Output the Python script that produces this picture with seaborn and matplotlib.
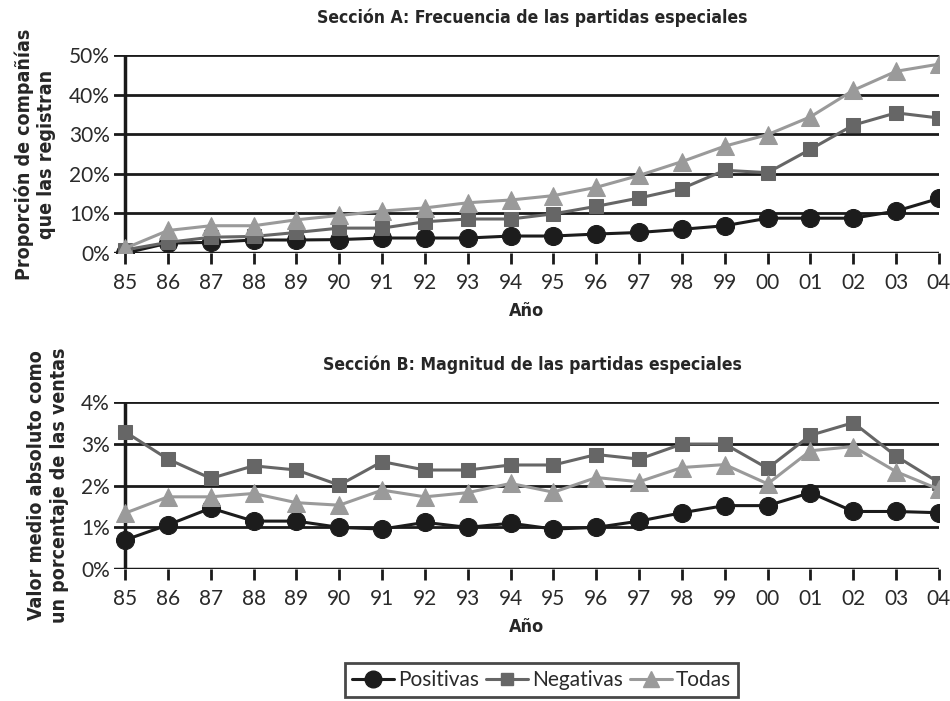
import matplotlib
matplotlib.use("Agg")
import matplotlib.pyplot as plt
import seaborn as sns
import pandas as pd
import numpy as np
from matplotlib.lines import Line2D
from matplotlib import font_manager

years = ["85", "86", "87", "88", "89", "90", "91", "92", "93", "94",
         "95", "96", "97", "98", "99", "00", "01", "02", "03", "04"]

# Section A: frequency (%)
a_pos = [0.0, 2.5, 2.7, 3.3, 3.3, 3.4, 3.8, 3.8, 3.8, 4.3,
         4.3, 4.8, 5.2, 6.0, 6.9, 8.8, 8.8, 8.8, 10.6, 13.8]
a_neg = [0.8, 2.7, 4.0, 4.2, 5.2, 6.3, 6.3, 7.9, 8.6, 8.6,
         9.9, 11.8, 13.9, 16.3, 20.9, 20.3, 26.2, 32.3, 35.4, 34.1]
a_all = [1.2, 5.7, 6.9, 6.9, 8.4, 9.5, 10.6, 11.4, 12.7, 13.4,
         14.5, 16.6, 19.6, 23.1, 27.0, 29.9, 34.4, 41.1, 45.9, 47.7]

# Section B: magnitude (% of sales)
b_pos = [0.70, 1.06, 1.46, 1.15, 1.15, 1.00, 0.96, 1.12, 1.00, 1.10,
         0.96, 1.00, 1.15, 1.35, 1.52, 1.52, 1.83, 1.38, 1.38, 1.35]
b_neg = [3.28, 2.63, 2.17, 2.47, 2.37, 2.01, 2.57, 2.37, 2.37, 2.49,
         2.49, 2.74, 2.63, 2.99, 2.99, 2.41, 3.20, 3.50, 2.70, 2.07]
b_all = [1.34, 1.73, 1.73, 1.81, 1.59, 1.53, 1.89, 1.73, 1.83, 2.05,
         1.84, 2.19, 2.09, 2.43, 2.50, 2.04, 2.83, 2.93, 2.33, 1.91]

series = ["Positivas", "Negativas", "Todas"]
yticks_a = [0, 10, 20, 30, 40, 50]
yticks_b = [0, 1, 2, 3, 4]

sns.set_theme(style="white")
plt.rcParams['font.family'] = ['Lato', 'DejaVu Sans']

colors = {"Positivas": "#1c1c1c", "Negativas": "#666666", "Todas": "#9a9a9a"}
markers = {"Positivas": "o", "Negativas": "s", "Todas": "^"}
msize = {"Positivas": 13, "Negativas": 10, "Todas": 13}

# condensed bold font for titles/labels
cond = None
for f in font_manager.fontManager.ttflist:
    if 'Condensed' in f.fname and 'Bold' in f.fname and 'Oblique' not in f.fname and 'Italic' not in f.fname:
        cond = f.fname
        if 'DejaVu' in f.fname:
            break
if cond:
    bold_fp = lambda s: font_manager.FontProperties(fname=cond, size=s)
else:
    bold_fp = lambda s: font_manager.FontProperties(family='DejaVu Sans', weight='bold', size=s)

tick_fp = font_manager.FontProperties(family=['Lato', 'DejaVu Sans'], weight='normal', size=15)

fig = plt.figure(figsize=(9.5, 7.01), dpi=100)
ax1 = fig.add_axes([0.12, 0.639, 0.8684, 0.2825])
ax2 = fig.add_axes([0.12, 0.1879, 0.8684, 0.239])

def make_df(pos, neg, al):
    rows = []
    for name, vals in zip(series, [pos, neg, al]):
        for i, v in enumerate(vals):
            rows.append({"x": i, "y": v, "serie": name})
    return pd.DataFrame(rows)

def draw(ax, df, yticks, fmt, title, ylabel):
    for name in series:
        d = df[df.serie == name]
        sns.lineplot(data=d, x="x", y="y", ax=ax, color=colors[name],
                     marker=markers[name], markersize=msize[name],
                     markeredgecolor=colors[name], linewidth=2.2,
                     sort=False, legend=False, zorder=3)
    for t in yticks[1:]:
        ax.axhline(t, color="#1a1a1a", lw=2, zorder=1)
    ax.axhline(yticks[0], color="#1a1a1a", lw=2.5, zorder=1)
    ax.axvline(0, color="#1a1a1a", lw=2.5, zorder=1)
    ax.set_ylim(yticks[0], yticks[-1])
    ax.set_xlim(-0.26, len(years) - 1)
    ax.set_yticks(yticks)
    ax.set_yticklabels([fmt(t) for t in yticks], fontproperties=tick_fp, color="#2a2a2a")
    ax.set_xticks(range(len(years)))
    ax.set_xticklabels(years, fontproperties=tick_fp, color="#2a2a2a")
    ax.tick_params(axis='x', direction='out', length=8, width=2, color="#1a1a1a", pad=6, bottom=True)
    ax.tick_params(axis='y', length=0, pad=3)
    for s in ax.spines.values():
        s.set_visible(False)
    ax.set_xlabel("Año", fontproperties=bold_fp(13), labelpad=7)
    ax.set_ylabel(ylabel, fontproperties=bold_fp(14), labelpad=9, linespacing=1.25)
    ax.set_title(title, fontproperties=bold_fp(12.6), pad=23, x=0.507)
    ax.patch.set_alpha(0)

draw(ax1, make_df(a_pos, a_neg, a_all), yticks_a, lambda t: f"{t}%",
     "Sección A: Frecuencia de las partidas especiales",
     "Proporción de compañías\nque las registran")
draw(ax2, make_df(b_pos, b_neg, b_all), yticks_b, lambda t: f"{t}%",
     "Sección B: Magnitud de las partidas especiales",
     "Valor medio absoluto como\nun porcentaje de las ventas")

handles = [Line2D([], [], color=colors[n], marker=markers[n], markersize=msize[n] - 1,
                  lw=2.2, markeredgecolor=colors[n]) for n in series]
leg = fig.legend(handles, series, loc='center', bbox_to_anchor=(0.57, 0.03),
                 ncol=3, frameon=True, prop=font_manager.FontProperties(family=['Lato', 'DejaVu Sans'], weight='normal', size=15),
                 handlelength=2.0, handletextpad=0.2, columnspacing=0.35, borderpad=0.35,
                 fancybox=False, edgecolor="#1a1a1a")
leg.get_frame().set_linewidth(2)
for t in leg.get_texts():
    t.set_color("#2a2a2a")

fig.savefig("out.png", dpi=100)
